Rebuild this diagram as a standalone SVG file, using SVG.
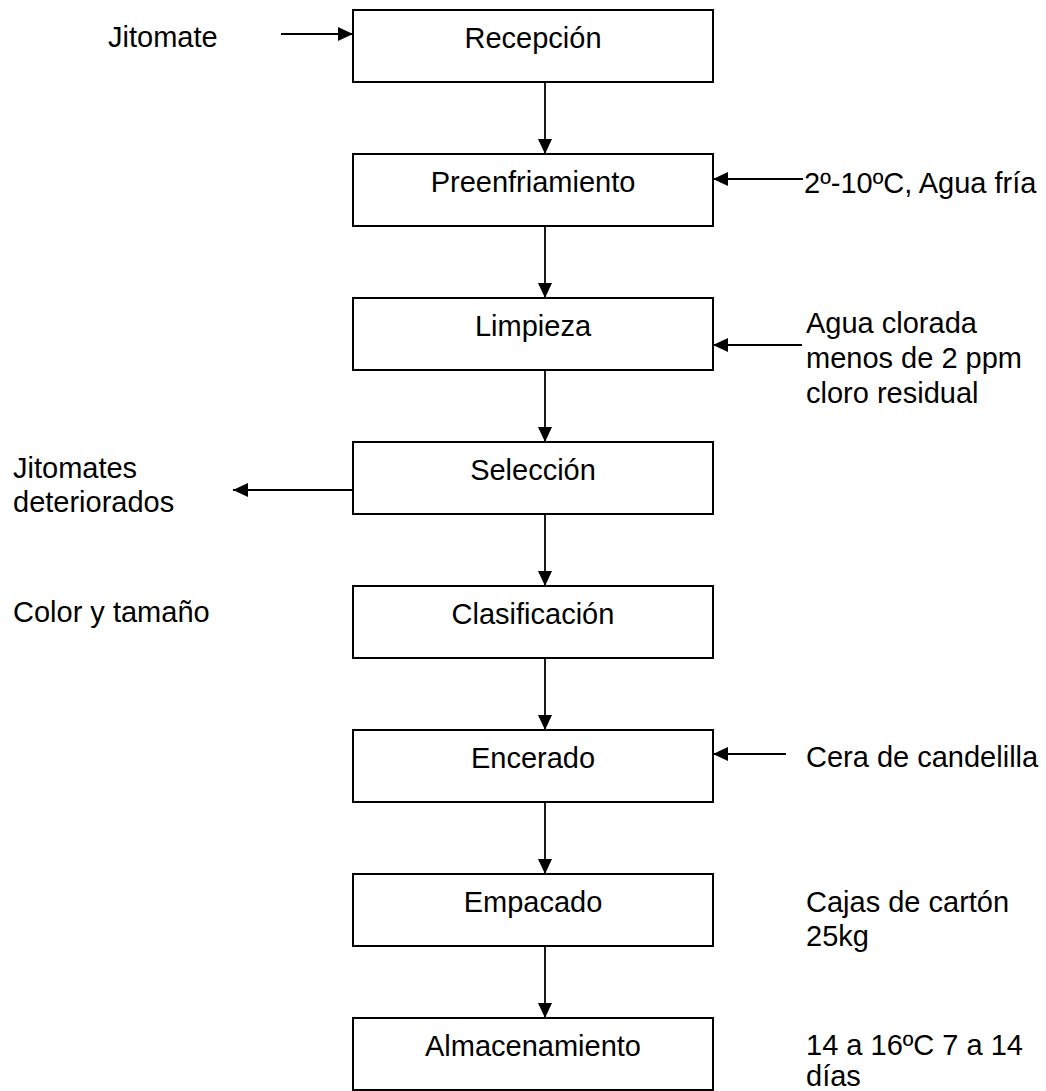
<svg xmlns="http://www.w3.org/2000/svg" width="1046" height="1091" viewBox="0 0 1046 1091">
<style>
.box{fill:#fff;stroke:#000;stroke-width:2}
.t{font-family:"Liberation Sans",Arial,sans-serif;font-size:29px;fill:#000}
.c{text-anchor:middle}
.ln{stroke:#000;stroke-width:1.8;fill:none;marker-end:url(#ah)}
</style>
<defs>
<marker id="ah" markerUnits="userSpaceOnUse" markerWidth="15" markerHeight="14" refX="15" refY="7" orient="auto">
<path d="M0,0 L15,7 L0,14 Z" fill="#000"/>
</marker>
</defs>
<rect width="1046" height="1091" fill="#fff"/>
<g id="connectors">
<line class="ln" x1="281" y1="34" x2="353" y2="34"/>
<line class="ln" x1="545" y1="82" x2="545" y2="154"/>
<line class="ln" x1="545" y1="226" x2="545" y2="298"/>
<line class="ln" x1="545" y1="370" x2="545" y2="442"/>
<line class="ln" x1="545" y1="514" x2="545" y2="586"/>
<line class="ln" x1="545" y1="658" x2="545" y2="730"/>
<line class="ln" x1="545" y1="802" x2="545" y2="874"/>
<line class="ln" x1="545" y1="946" x2="545" y2="1018"/>
<line class="ln" x1="803" y1="179" x2="713" y2="179"/>
<line class="ln" x1="802" y1="345" x2="713" y2="345"/>
<line class="ln" x1="353" y1="490" x2="233" y2="490"/>
<line class="ln" x1="786" y1="754" x2="713" y2="754"/>
</g>
<g id="labels">
<text class="t" x="108" y="47">Jitomate</text>
<text class="t" x="804" y="193">2º-10ºC, Agua fría</text>
<text class="t" x="806" y="333">Agua clorada</text>
<text class="t" x="806" y="368">menos de 2 ppm</text>
<text class="t" x="806" y="403">cloro residual</text>
<text class="t" x="13" y="478">Jitomates</text>
<text class="t" x="13" y="512">deteriorados</text>
<text class="t" x="13" y="622">Color y tamaño</text>
<text class="t" x="806" y="767">Cera de candelilla</text>
<text class="t" x="806" y="912">Cajas de cartón</text>
<text class="t" x="806" y="946">25kg</text>
<text class="t" x="806" y="1055">14 a 16ºC 7 a 14</text>
<text class="t" x="806" y="1086">días</text>
</g>
<g id="recepcion"><rect class="box" x="353" y="10" width="360" height="72"/><text class="t c" x="533" y="48">Recepción</text></g>
<g id="preenfriamiento"><rect class="box" x="353" y="154" width="360" height="72"/><text class="t c" x="533" y="192">Preenfriamiento</text></g>
<g id="limpieza"><rect class="box" x="353" y="298" width="360" height="72"/><text class="t c" x="533" y="336">Limpieza</text></g>
<g id="seleccion"><rect class="box" x="353" y="442" width="360" height="72"/><text class="t c" x="533" y="480">Selección</text></g>
<g id="clasificacion"><rect class="box" x="353" y="586" width="360" height="72"/><text class="t c" x="533" y="624">Clasificación</text></g>
<g id="encerado"><rect class="box" x="353" y="730" width="360" height="72"/><text class="t c" x="533" y="768">Encerado</text></g>
<g id="empacado"><rect class="box" x="353" y="874" width="360" height="72"/><text class="t c" x="533" y="912">Empacado</text></g>
<g id="almacenamiento"><rect class="box" x="353" y="1018" width="360" height="72"/><text class="t c" x="533" y="1056">Almacenamiento</text></g>
</svg>
